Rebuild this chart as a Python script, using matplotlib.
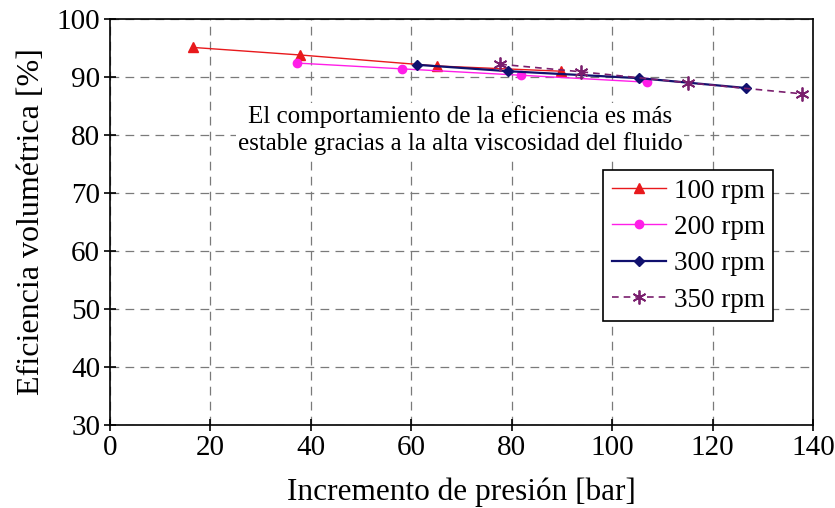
import matplotlib
matplotlib.use('Agg')
import matplotlib.pyplot as plt

plt.rcParams['font.family'] = ['Liberation Serif', 'DejaVu Serif']

# datos
p100 = [16.5, 37.8, 65.1, 89.8]
e100 = [95.1, 93.8, 91.9, 91.0]
p200 = [37.3, 58.2, 81.9, 107.0]
e200 = [92.4, 91.4, 90.3, 89.1]
p300 = [61.2, 79.3, 105.4, 126.7]
e300 = [92.1, 91.0, 89.8, 88.1]
p350 = [77.7, 93.8, 115.1, 137.8]
e350 = [92.2, 90.9, 89.0, 87.1]

fig = plt.figure(figsize=(8.35, 5.08), dpi=100)
ax = fig.add_axes([0.1317, 0.1634, 0.842, 0.7992])

ax.plot(p100, e100, color='#e8191c', marker='^', markersize=7, lw=1.0, label='100 rpm')
ax.plot(p200, e200, color='#ff1ee8', marker='o', markersize=6, lw=1.0, label='200 rpm')
ax.plot(p300, e300, color='#10106e', marker='D', markersize=5, lw=1.6, label='300 rpm')
ax.plot(p350, e350, color='#7a1f6e', marker=(6, 2, 0), markersize=10, mew=1.3, lw=1.2,
        ls=(0, (4, 3)), label='350 rpm')

ax.set_xlim(0, 140)
ax.set_ylim(30, 100)
ax.set_xticks(range(0, 141, 20))
ax.set_yticks(range(30, 101, 10))
ax.grid(True, color='#7a7a7a', ls=(0, (7, 5)), lw=0.9)
ax.tick_params(direction='inout', length=8, labelsize=21, width=1.2, pad=3)
for s in ax.spines.values():
    s.set_linewidth(1.2)

ax.set_xlabel('Incremento de presión [bar]', fontsize=22.5, labelpad=12)
ax.set_ylabel('Eficiencia volumétrica [%]', fontsize=23, labelpad=8)

ax.text(69.7, 80.9, 'El comportamiento de la eficiencia es más\nestable gracias a la alta viscosidad del fluido',
        ha='center', va='center', fontsize=18, linespacing=1.2,
        bbox=dict(facecolor='white', edgecolor='none', pad=1))

leg = ax.legend(loc='upper right', bbox_to_anchor=(0.943, 0.627), fontsize=19.5,
                frameon=True, fancybox=False, edgecolor='black', framealpha=1,
                handlelength=2.0, handletextpad=0.3, borderpad=0.3, labelspacing=0.42,
                borderaxespad=0)
leg.get_frame().set_linewidth(1.2)

fig.savefig('out.png', dpi=100)
